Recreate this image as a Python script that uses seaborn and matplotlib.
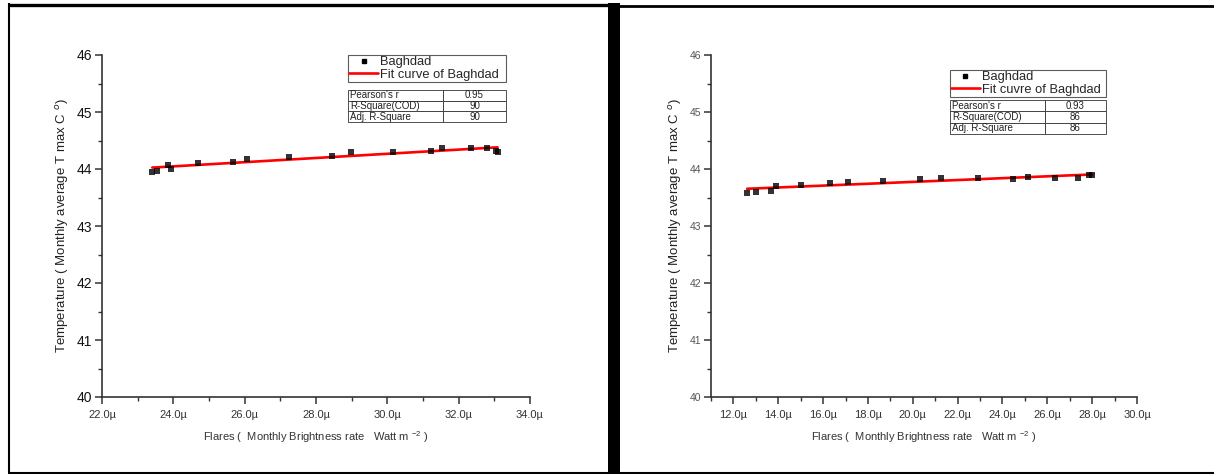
import numpy as np
import pandas as pd
import seaborn as sns
import matplotlib
matplotlib.use("Agg")
import matplotlib.pyplot as plt
from matplotlib.lines import Line2D
from matplotlib.patches import Rectangle
from matplotlib.ticker import MultipleLocator, FuncFormatter

# ---- data (flare brightness in micro W m^-2, temperature in C) ----
flares_a = [23.41, 23.53, 23.86, 23.93, 24.68, 25.66, 26.06, 27.24, 28.44, 28.98,
            30.15, 31.22, 31.52, 32.35, 32.79, 33.05, 33.09]
temp_a = [43.94, 43.97, 44.07, 44.00, 44.10, 44.12, 44.18, 44.21, 44.23, 44.29,
          44.30, 44.32, 44.36, 44.36, 44.37, 44.32, 44.29]

flares_b = [12.61, 13.02, 13.69, 13.91, 15.02, 16.31, 17.10, 18.68, 20.32, 21.28,
            22.90, 24.46, 25.14, 26.36, 27.36, 27.87, 28.00]
temp_b = [43.58, 43.60, 43.62, 43.70, 43.72, 43.75, 43.78, 43.79, 43.82, 43.85,
          43.85, 43.82, 43.86, 43.85, 43.85, 43.89, 43.89]

stat_names = ["Pearson's r", "R-Square(COD)", "Adj. R-Square"]
stats_a = ["0.95", "90", "90"]
stats_b = ["0.93", "86", "86"]
legend_a = ["Baghdad", "Fit curve of Baghdad"]
legend_b = ["Baghdad", "Fit cuvre of Baghdad"]

sns.set_theme(style="white")
plt.rcParams["font.family"] = ["Liberation Sans", "DejaVu Sans"]
plt.rcParams["mathtext.fontset"] = "custom"
plt.rcParams["mathtext.rm"] = "Liberation Sans"

fig = plt.figure(figsize=(12.14, 4.74), dpi=100)
W, H = 1214, 474

def px_axes(x0, x1, y0, y1):
    return fig.add_axes([x0 / W, 1 - y1 / H, (x1 - x0) / W, (y1 - y0) / H])

ax1 = px_axes(102, 530, 55, 397)
ax2 = px_axes(711, 1137, 55, 397)

def draw(ax, xs, ys, xlim, stats, labels, ytick_size, ytick_color, leg_box, tab_box, divider):
    df = pd.DataFrame({"x": xs, "y": ys})
    sns.regplot(data=df, x="x", y="y", ax=ax, ci=None, marker="s",
                scatter_kws=dict(s=20, color="black", linewidths=0, zorder=3),
                line_kws=dict(color="#ff0000", lw=1.9, zorder=2))
    ax.set_xlim(*xlim)
    ax.set_ylim(40, 46)
    for s in ["top", "right"]:
        ax.spines[s].set_visible(False)
    for s in ["left", "bottom"]:
        ax.spines[s].set_color("#333333")
        ax.spines[s].set_linewidth(1.2)
    ax.xaxis.set_major_locator(MultipleLocator(2))
    ax.xaxis.set_minor_locator(MultipleLocator(1))
    ax.yaxis.set_major_locator(MultipleLocator(1))
    ax.yaxis.set_minor_locator(MultipleLocator(0.5))
    ax.xaxis.set_major_formatter(FuncFormatter(lambda v, p: f"{v:.1f}\u00b5"))
    ax.tick_params(axis="both", which="both", direction="out", color="#333333",
                   bottom=True, left=True)
    ax.tick_params(axis="both", which="major", length=5, width=1.1)
    ax.tick_params(axis="both", which="minor", length=3, width=1.0)
    ax.tick_params(axis="x", labelsize=8, labelcolor="#333333", pad=4)
    ax.tick_params(axis="y", labelsize=ytick_size, labelcolor=ytick_color, pad=2)
    ax.set_xlabel("Flares (  Monthly Brightness rate   Watt m $^{-2}$ )",
                  fontsize=8, color="#333333", labelpad=7)
    ax.set_ylabel("Temperature ( Monthly average T max C $^{o}$)",
                  fontsize=9.5, color="#222222", labelpad=4)

    handles = [Line2D([], [], marker="s", color="black", ls="none", markersize=3.5),
               Line2D([], [], color="#ff0000", lw=1.9)]
    leg = ax.legend(handles, labels, loc="lower left", bbox_to_anchor=leg_box,
                    mode="expand", borderaxespad=0, fontsize=9.3, frameon=True,
                    fancybox=False, edgecolor="#333333", handlelength=2.2,
                    handletextpad=0.2, borderpad=0.1, labelspacing=0.05)
    leg.get_frame().set_linewidth(0.8)

    cell_text = [[n, v] for n, v in zip(stat_names, stats)]
    tab = ax.table(cellText=cell_text, bbox=tab_box,
                   colWidths=[divider, 1 - divider], cellLoc="center")
    tab.auto_set_font_size(False)
    tab.set_fontsize(7)
    for (r, c), cell in tab.get_celld().items():
        cell.set_edgecolor("#333333")
        cell.set_linewidth(0.6)
        cell.get_text().set_color("#222222")
        if c == 0:
            cell.get_text().set_ha("left")
            cell.PAD = 0.02

draw(ax1, flares_a, temp_a, (22, 34), stats_a, legend_a, 10, "#111111",
     (0.575, 0.921, 0.369, 0.079), [0.575, 0.804, 0.369, 0.094], 0.6)
draw(ax2, flares_b, temp_b, (11, 30), stats_b, legend_b, 7.5, "#555555",
     (0.561, 0.877, 0.366, 0.088), [0.561, 0.769, 0.366, 0.099], 0.61)

# ---- outer frame of the page ----
def hline(x0, x1, y, lw):
    fig.add_artist(Line2D([x0 / W, x1 / W], [1 - y / H, 1 - y / H], color="black",
                          lw=lw, solid_capstyle="butt"))

def vline(x, y0, y1, lw):
    fig.add_artist(Line2D([x / W, x / W], [1 - y0 / H, 1 - y1 / H], color="black",
                          lw=lw, solid_capstyle="butt"))

hline(8, 614, 4.5, 2.4)
hline(614, 1214, 6, 2.0)
hline(8, 1214, 472.5, 1.5)
vline(9, 3, 473, 1.5)
fig.add_artist(Rectangle((608 / W, 0), 12 / W, 1 - 3 / H, transform=fig.transFigure,
                         color="black", lw=0))

fig.savefig("out.png", dpi=100)
